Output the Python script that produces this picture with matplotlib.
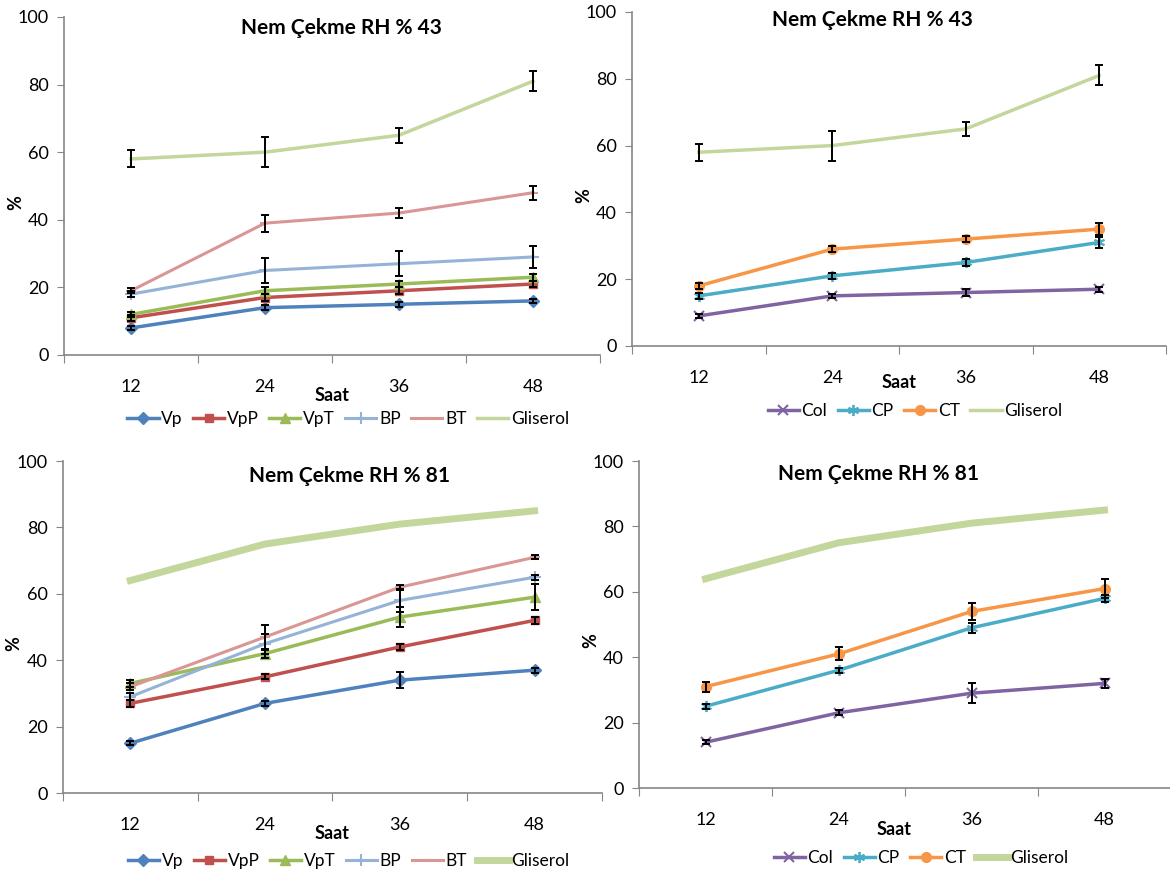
import numpy as np
import matplotlib.pyplot as plt

plt.rcParams['font.family'] = ['Lato', 'DejaVu Sans']

hours = ['12', '24', '36', '48']

# RH 43 - left panel
vp_43 = [8, 14, 15, 16]
vpp_43 = [11, 17, 19, 21]
vpt_43 = [12, 19, 21, 23]
bp_43 = [18, 25, 27, 29]
bt_43 = [19, 39, 42, 48]
glis_43 = [58, 60, 65, 81]
vp_43_err = [0.5, 0.7, 0.7, 0.7]
vpp_43_err = [0.8, 1.0, 1.0, 1.0]
vpt_43_err = [0.8, 1.0, 1.0, 1.0]
bp_43_err = [0.8, 3.7, 3.7, 3.3]
bt_43_err = [0.8, 2.5, 1.5, 2.0]
glis_43_err = [2.5, 4.5, 2.2, 3.0]

# RH 43 - right panel
col_43 = [9, 15, 16, 17]
cp_43 = [15, 21, 25, 31]
ct_43 = [18, 29, 32, 35]
col_43_err = [0.7, 0.7, 1.0, 0.8]
cp_43_err = [0.8, 0.8, 1.0, 1.7]
ct_43_err = [1.0, 0.8, 1.0, 1.7]

# RH 81 - left panel
vp_81 = [15, 27, 34, 37]
vpp_81 = [27, 35, 44, 52]
vpt_81 = [33, 42, 53, 59]
bp_81 = [29, 45, 58, 65]
bt_81 = [32, 47, 62, 71]
glis_81 = [64, 75, 81, 85]
vp_81_err = [0.6, 0.8, 2.4, 0.8]
vpp_81_err = [1.0, 0.8, 0.8, 1.0]
vpt_81_err = [1.0, 1.2, 3.0, 4.0]
bp_81_err = [1.0, 3.0, 3.5, 0.7]
bt_81_err = [1.0, 3.7, 0.8, 0.6]

# RH 81 - right panel
col_81 = [14, 23, 29, 32]
cp_81 = [25, 36, 49, 58]
ct_81 = [31, 41, 54, 61]
col_81_err = [0.6, 0.8, 3.0, 1.4]
cp_81_err = [0.8, 0.8, 1.5, 1.0]
ct_81_err = [1.5, 2.0, 2.7, 3.0]

BLUE, RED, GREEN = '#4F81BD', '#C0504D', '#9BBB59'
LBLUE, PINK, LGREEN = '#95B3D7', '#D99694', '#C3D69B'
PURPLE, TEAL, ORANGE = '#8064A2', '#4BACC6', '#F79646'

x = np.arange(4) + 0.5

fig = plt.figure(figsize=(11.7, 8.75), dpi=100)
ax_tl = fig.add_axes([0.0547, 0.5943, 0.4581, 0.3863])
ax_tr = fig.add_axes([0.5402, 0.6046, 0.4564, 0.3817])
ax_bl = fig.add_axes([0.0538, 0.0937, 0.4607, 0.3794])
ax_br = fig.add_axes([0.5462, 0.0994, 0.4547, 0.3737])


def style(ax, title, tx, ty, sx, sy, leg_y, ncol):
    ax.set_xlim(0, 4)
    ax.set_ylim(0, 100)
    ax.set_yticks(range(0, 101, 20))
    ax.set_xticks(range(5))
    ax.set_xticklabels([])
    ax.set_xticks(x, minor=True)
    ax.set_xticklabels(hours, minor=True)
    ax.tick_params(axis='x', which='minor', length=0, pad=17, labelsize=13)
    ax.tick_params(axis='x', which='major', direction='out', length=6, color='#868686')
    ax.tick_params(axis='y', direction='out', length=5, color='#868686', labelsize=13, pad=6)
    for s in ['top', 'right']:
        ax.spines[s].set_visible(False)
    for s in ['left', 'bottom']:
        ax.spines[s].set_color('#868686')
        ax.spines[s].set_linewidth(1.2)
    ax.text(tx, ty, title, transform=ax.transAxes, ha='center', va='center',
            fontsize=15, fontweight='bold')
    ax.set_xlabel('Saat', fontsize=13, fontweight='bold')
    ax.xaxis.set_label_coords(sx, sy)
    ax.set_ylabel('%', fontsize=13, fontweight='bold')
    ax.yaxis.set_label_coords(-0.075, 0.45)
    ax.legend(loc='center', bbox_to_anchor=(0.53, leg_y), ncol=ncol, frameon=False,
              fontsize=12.5, handlelength=1.8, columnspacing=0.6, handletextpad=0.15)


def series(ax, vals, err, color, marker, label, lw=2.5, ms=7, mew=1.0):
    ax.plot(x, vals, color=color, lw=lw, marker=marker, ms=ms, mec=color,
            mew=mew, label=label, zorder=3)
    if err is not None:
        ax.errorbar(x, vals, yerr=err, fmt='none', ecolor='black', elinewidth=1.4,
                    capsize=3, capthick=1.4, zorder=4)


# top left
series(ax_tl, vp_43, vp_43_err, BLUE, 'D', 'Vp', ms=6)
series(ax_tl, vpp_43, vpp_43_err, RED, 's', 'VpP', ms=6)
series(ax_tl, vpt_43, vpt_43_err, GREEN, '^', 'VpT', ms=7)
series(ax_tl, bp_43, bp_43_err, LBLUE, '+', 'BP', lw=2.2, ms=8, mew=1.5)
series(ax_tl, bt_43, bt_43_err, PINK, '_', 'BT', lw=2.2, ms=7, mew=1.5)
series(ax_tl, glis_43, glis_43_err, LGREEN, None, 'Gliserol', lw=2.5)
style(ax_tl, 'Nem Çekme RH % 43', 0.517, 0.967, 0.5, -0.095, -0.19, 6)

# top right
series(ax_tr, col_43, col_43_err, PURPLE, 'x', 'Col', ms=7, mew=1.5)
series(ax_tr, cp_43, cp_43_err, TEAL, (6, 2, 0), 'CP', ms=8, mew=1.3)
series(ax_tr, ct_43, ct_43_err, ORANGE, 'o', 'CT', ms=7)
series(ax_tr, glis_43, glis_43_err, LGREEN, None, 'Gliserol', lw=2.5)
style(ax_tr, 'Nem Çekme RH % 43', 0.45, 0.976, 0.5, -0.085, -0.195, 4)

# bottom left
series(ax_bl, vp_81, vp_81_err, BLUE, 'D', 'Vp', ms=6)
series(ax_bl, vpp_81, vpp_81_err, RED, 's', 'VpP', ms=6)
series(ax_bl, vpt_81, vpt_81_err, GREEN, '^', 'VpT', ms=7)
series(ax_bl, bp_81, bp_81_err, LBLUE, '+', 'BP', lw=2.2, ms=8, mew=1.5)
series(ax_bl, bt_81, bt_81_err, PINK, '_', 'BT', lw=2.2, ms=7, mew=1.5)
series(ax_bl, glis_81, None, LGREEN, None, 'Gliserol', lw=5)
style(ax_bl, 'Nem Çekme RH % 81', 0.532, 0.955, 0.5, -0.095, -0.205, 6)

# bottom right
series(ax_br, col_81, col_81_err, PURPLE, 'x', 'Col', ms=7, mew=1.5)
series(ax_br, cp_81, cp_81_err, TEAL, (6, 2, 0), 'CP', ms=8, mew=1.3)
series(ax_br, ct_81, ct_81_err, ORANGE, 'o', 'CT', ms=7)
series(ax_br, glis_81, None, LGREEN, None, 'Gliserol', lw=5)
style(ax_br, 'Nem Çekme RH % 81', 0.45, 0.96, 0.48, -0.1, -0.215, 4)

fig.savefig('out.png', dpi=100)
